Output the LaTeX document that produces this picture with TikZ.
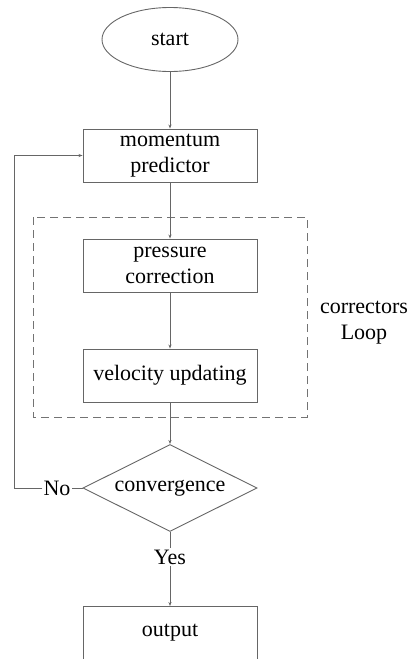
\documentclass[tikz,border=0pt]{standalone}
\usepackage{fontspec}
\setmainfont{Liberation Serif}
\usetikzlibrary{shapes.geometric,arrows.meta}

\begin{document}
\begin{tikzpicture}[x=1pt,y=-1pt,
    every node/.style={font=\fontsize{22}{26}\selectfont},
    stepbox/.style={draw=black!60,line width=0.9pt,rectangle,minimum width=174pt,minimum height=53pt,align=center,inner sep=2pt},
    link/.style={draw=black!60,line width=0.8pt},
    arr/.style={link,-{Stealth[length=4pt,width=3pt]}}]
    \useasboundingbox (0,0) rectangle (413,659);

    % main chain
    \node[draw=black!60,line width=0.9pt,ellipse,minimum width=136pt,minimum height=64pt] (start) at (170,39.5) {start};
    \node[stepbox] (pred) at (170,155.5) {momentum\\predictor};
    \node[stepbox] (press) at (170,265.5) {pressure\\correction};
    \node[stepbox] (velo) at (170,375.5) {velocity updating};
    \node[draw=black!60,line width=0.9pt,diamond,aspect=2,minimum width=174pt,minimum height=87pt,inner sep=0pt] (conv) at (170,488) {convergence};
    \node[stepbox] (out) at (170,633) {output};

    % corrector loop
    \draw[black!55,line width=0.9pt,dash pattern=on 8pt off 5pt] (33,217) rectangle (307,417);
    \node[align=center] (loop) at (364,323) {correctors\\Loop};

    \node[inner sep=1pt] (no) at (57,488) {No};
    \node[inner sep=1pt,fill=white] (yes) at (170,557) {Yes};
    \coordinate (turn) at (14,488);

    \draw[arr] (start) -- (pred);
    \draw[arr] (pred) -- (press);
    \draw[arr] (press) -- (velo);
    \draw[arr] (velo) -- (conv);
    \draw[link] (conv.west) -- (no);
    \draw[arr] (no) -- (turn) |- (pred.west);
    \draw[link] (conv.south) -- (yes);
    \draw[arr] (yes) -- (out);
\end{tikzpicture}
\end{document}
